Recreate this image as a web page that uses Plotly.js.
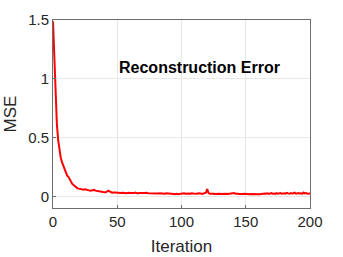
<!DOCTYPE html>
<html>
<head>
<meta charset="utf-8">
<script src="https://cdn.plot.ly/plotly-3.0.1.min.js"></script>
<style>html,body{margin:0;padding:0;background:#fff;}#chart{width:343px;height:257px;}</style>
</head>
<body>
<div id="chart"></div>
<script>
const chartTitle = "Reconstruction Error";
const xLabel = "Iteration";
const yLabel = "MSE";
const xTicks = [0, 50, 100, 150, 200];
const yTicks = [0, 0.5, 1, 1.5];
const yTickText = ["0", "0.5", "1", "1.5"];
const mse = [
  1.49, 1.22, 0.86, 0.62, 0.48, 0.40, 0.33, 0.29, 0.26, 0.22,
  0.19, 0.175, 0.165, 0.14, 0.12, 0.105, 0.095, 0.085, 0.075, 0.068,
  0.065, 0.062, 0.060, 0.058, 0.056, 0.060, 0.055, 0.053, 0.050, 0.048,
  0.052, 0.056, 0.054, 0.048, 0.045, 0.043, 0.040, 0.039, 0.038, 0.036,
  0.035, 0.034, 0.040, 0.047, 0.042, 0.033, 0.030, 0.032, 0.029, 0.031,
  0.030,
  0.028, 0.030, 0.027, 0.029, 0.031, 0.028, 0.026, 0.029, 0.030, 0.027,
  0.025, 0.028, 0.027, 0.031, 0.026, 0.024, 0.027, 0.029, 0.026, 0.028,
  0.027, 0.030, 0.029, 0.026, 0.025, 0.028, 0.024, 0.023, 0.026, 0.025,
  0.022, 0.024, 0.025, 0.023, 0.021, 0.024, 0.022, 0.025, 0.023, 0.021,
  0.020, 0.023, 0.021, 0.019, 0.018, 0.021, 0.017, 0.019, 0.024, 0.020,
  0.022, 0.025, 0.021, 0.023, 0.020, 0.024, 0.022, 0.026, 0.023, 0.021,
  0.024, 0.022, 0.025, 0.021, 0.023, 0.020, 0.022, 0.024, 0.030, 0.062,
  0.028, 0.021, 0.023, 0.020, 0.022, 0.019, 0.021, 0.023, 0.020, 0.022,
  0.019, 0.021, 0.018, 0.020, 0.022, 0.019, 0.021, 0.018, 0.020, 0.023,
  0.027, 0.022, 0.019, 0.021, 0.020, 0.018, 0.021, 0.019, 0.022, 0.020,
  0.019, 0.021, 0.018, 0.020, 0.019, 0.017, 0.019, 0.018, 0.016, 0.017,
  0.018, 0.020, 0.022, 0.019, 0.024, 0.021, 0.025, 0.020, 0.023, 0.027,
  0.021, 0.024, 0.020, 0.026, 0.022, 0.025, 0.028, 0.021, 0.024, 0.026,
  0.022, 0.029, 0.024, 0.021, 0.027, 0.023, 0.026, 0.030, 0.022, 0.025,
  0.028, 0.023, 0.026, 0.021, 0.031, 0.024, 0.027, 0.022, 0.025, 0.023
];
const iterations = mse.map((_, i) => i);

const font = "Liberation Sans, Arial, sans-serif";
const axisCommon = {
  showline: true, mirror: true, linecolor: "#6e6e6e", linewidth: 1,
  showgrid: true, gridcolor: "#e8e8e8", gridwidth: 1,
  zeroline: false, ticks: "inside", ticklen: 3, tickcolor: "#6e6e6e",
  tickfont: {family: font, size: 15, color: "#262626"},
  automargin: false
};
const layout = {
  width: 343, height: 257,
  margin: {l: 53, r: 33, t: 20, b: 49},
  paper_bgcolor: "#fff", plot_bgcolor: "#fff",
  showlegend: false,
  xaxis: Object.assign({}, axisCommon, {
    range: [0, 200], tickvals: xTicks,
    title: {text: xLabel, font: {family: font, size: 17, color: "#262626"}, standoff: 11}
  }),
  yaxis: Object.assign({}, axisCommon, {
    range: [-0.1, 1.5], tickvals: yTicks, ticktext: yTickText,
    title: {text: yLabel, font: {family: font, size: 17, color: "#262626"}, standoff: 7}
  }),
  annotations: [{
    text: "<b>" + chartTitle + "</b>", xref: "paper", yref: "paper",
    x: 0.569, y: 0.747, xanchor: "center", yanchor: "middle", showarrow: false,
    font: {family: font, size: 16, color: "#000"}
  }]
};
Plotly.newPlot("chart", [{
  x: iterations, y: mse, type: "scatter", mode: "lines",
  line: {color: "#ff0000", width: 2}, hoverinfo: "skip"
}], layout, {staticPlot: true, displayModeBar: false});
</script>
</body>
</html>
